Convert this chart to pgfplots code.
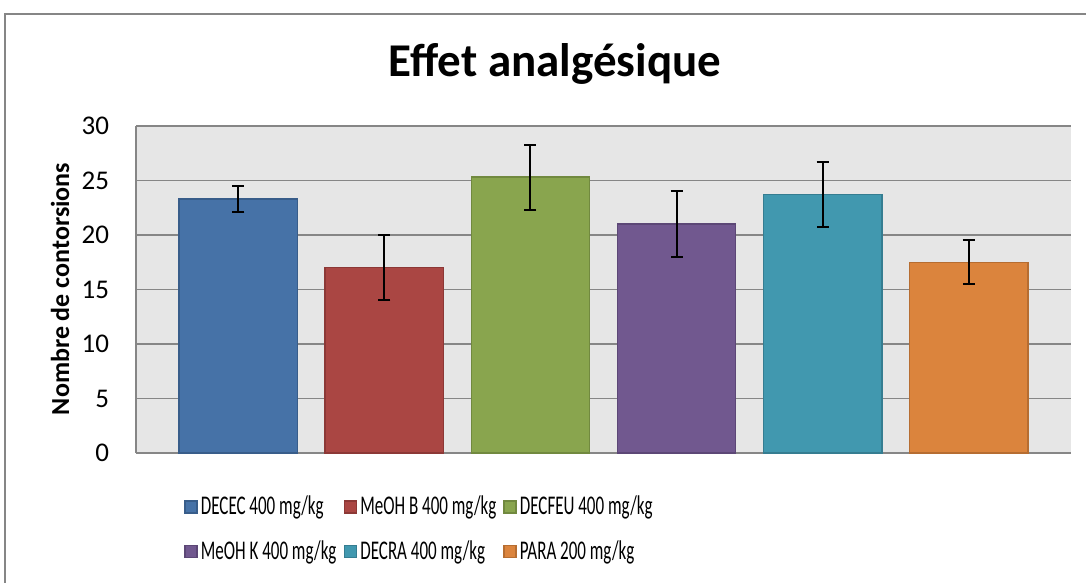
\documentclass[border=0pt]{standalone}
\usepackage{fontspec}
\setmainfont{Carlito}
\newfontfamily\legfont{Carlito}[FakeStretch=0.63]
\usepackage{pgfplots}
\pgfplotsset{compat=1.18}

\definecolor{gridgray}{RGB}{134,134,134}
\definecolor{bggray}{RGB}{230,230,230}
\definecolor{framegray}{RGB}{134,134,134}
\definecolor{cA}{RGB}{70,114,167}  \definecolor{cAd}{RGB}{56,93,138}
\definecolor{cB}{RGB}{170,70,67}   \definecolor{cBd}{RGB}{140,56,54}
\definecolor{cC}{RGB}{137,165,78}  \definecolor{cCd}{RGB}{113,137,63}
\definecolor{cD}{RGB}{113,88,143}  \definecolor{cDd}{RGB}{92,71,118}
\definecolor{cE}{RGB}{65,152,175}  \definecolor{cEd}{RGB}{53,125,145}
\definecolor{cF}{RGB}{219,132,61}  \definecolor{cFd}{RGB}{182,109,49}

\newcommand{\legtxt}[1]{\makebox[71.5pt][l]{#1}}

\begin{document}
\begin{tikzpicture}
\path[use as bounding box] (0pt,0pt) rectangle (543pt,-291.5pt);
\draw[framegray, line width=1pt] (2.5pt,-291.5pt) -- (2.5pt,-7pt) -- (543pt,-7pt);
\node[anchor=base, font=\bfseries\fontsize{23.5}{28}\selectfont] at (277.5pt,-38.5pt) {Effet analgésique};
\node[rotate=90, font=\bfseries\fontsize{13}{15}\selectfont] at (30pt,-144.5pt) {Nombre de contorsions};

\begin{axis}[
  at={(68pt,-226.5pt)}, anchor=south west,
  width=467.5pt, height=163.5pt, scale only axis,
  xmin=-0.7, xmax=5.7, ymin=0, ymax=30,
  ytick={0,5,...,30}, xtick=\empty,
  ymajorgrids, grid style={gridgray, line width=0.8pt},
  major tick length=0pt,
  axis lines*=left,
  axis line style={gridgray, line width=0.8pt},
  axis background/.style={fill=bggray},
  /pgf/number format/assume math mode=true,
  yticklabel style={font=\fontsize{13.5}{16}\selectfont, xshift=-10pt},
  ybar, bar width=0.81, bar shift=0pt,
  every axis plot/.append style={line width=0.75pt},
  error bars/y dir=both, error bars/y explicit,
  error bars/error bar style={black, line width=1pt},
  error bars/error mark options={rotate=90, mark size=3pt, black, line width=1pt},
  legend columns=3,
  legend style={at={(0.0513,-0.13)}, anchor=north west, draw=none, fill=none,
    inner sep=0pt, row sep=11.5pt,
    font=\legfont\fontsize{13.5}{16}\selectfont,
    nodes={inner sep=0pt},
    /tikz/every odd column/.append style={column sep=1.5pt}},
  legend image code/.code={\draw[#1, line width=0.75pt] (0pt,-3pt) rectangle (6pt,3pt);},
]
\addplot[fill=cA, draw=cAd] coordinates {(0,23.3) +- (0,1.2)};
\addplot[fill=cB, draw=cBd] coordinates {(1,17.0) +- (0,3.0)};
\addplot[fill=cC, draw=cCd] coordinates {(2,25.3) +- (0,3.0)};
\addplot[fill=cD, draw=cDd] coordinates {(3,21.0) +- (0,3.0)};
\addplot[fill=cE, draw=cEd] coordinates {(4,23.7) +- (0,3.0)};
\addplot[fill=cF, draw=cFd] coordinates {(5,17.5) +- (0,2.0)};
\legend{\legtxt{DECEC 400 mg/kg}, \legtxt{MeOH B 400 mg/kg}, \legtxt{DECFEU 400 mg/kg},
        \legtxt{MeOH K 400 mg/kg}, \legtxt{DECRA 400 mg/kg}, \legtxt{PARA 200 mg/kg}}
\end{axis}
\end{tikzpicture}
\end{document}
